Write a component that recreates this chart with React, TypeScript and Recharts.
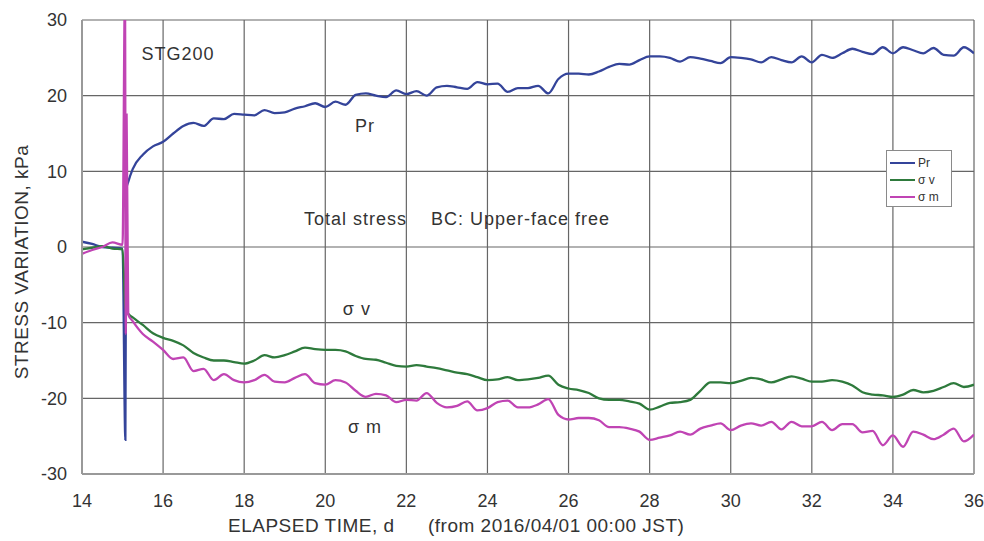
import { LineChart, Line, XAxis, YAxis, CartesianGrid, ReferenceDot, Label } from "recharts";

const FONT = '"Liberation Sans", Arial, sans-serif';
const INK = "#333";

const PR_COLOR = "#34449a";
const SV_COLOR = "#2e7a3c";
const SM_COLOR = "#c044b4";

const dayTicks = [14, 16, 18, 20, 22, 24, 26, 28, 30, 32, 34, 36];
const stressTicks = [-30, -20, -10, 0, 10, 20, 30];

// readings before and through the loading step just after day 15
const prLeadDays = [14, 14.25, 14.5, 14.75, 15.0, 15.07, 15.09, 15.14];
const prLead = [0.7, 0.4, 0.0, -0.1, -0.2, -25.5, 7.6, 8.6];

const svLeadDays = [14, 14.25, 14.5, 14.75, 15.0, 15.07, 15.14];
const svLead = [-0.3, -0.1, 0.1, -0.2, -0.3, -8.0, -8.8];

const smLeadDays = [14, 14.25, 14.5, 14.75, 15.0, 15.06, 15.08, 15.1, 15.14];
const smLead = [-0.9, -0.4, 0.0, 0.6, 0.3, 34, -11.5, 17.5, -8.9];

// 6-hourly readings from day 15.25 to day 36
const mainStart = 15.25;
const mainStep = 0.25;

const pr = [
  10.3, 12.2, 13.3,
  13.9, 15.0, 16.0, 16.4,
  16.0, 17.0, 16.9, 17.6,
  17.5, 17.4, 18.1, 17.7,
  17.8, 18.3, 18.6, 19.0,
  18.5, 19.2, 18.8, 20.1,
  20.3, 20.0, 19.8, 20.7,
  20.2, 20.6, 20.0, 21.1,
  21.3, 21.1, 20.9, 21.8,
  21.5, 21.6, 20.5, 21.0,
  21.0, 21.3, 20.3, 22.2,
  22.9, 22.9, 22.8, 23.2,
  23.8, 24.2, 24.1, 24.7,
  25.2, 25.2, 25.0, 24.5,
  25.1, 24.9, 24.6, 24.3,
  25.1, 25.0, 24.8, 24.4,
  25.1, 24.7, 24.4, 25.2,
  24.4, 25.4, 25.0, 25.6,
  26.2, 25.8, 25.5, 26.4,
  25.6, 26.4, 26.0, 25.6,
  26.3, 25.4, 25.3, 26.4,
  25.6,
];

const sv = [
  -9.3, -10.3, -11.4,
  -12.0, -12.4, -13.0, -14.0,
  -14.6, -15.0, -15.0, -15.2,
  -15.4, -15.0, -14.3, -14.6,
  -14.3, -13.8, -13.3, -13.5,
  -13.6, -13.6, -13.8, -14.4,
  -14.8, -14.9, -15.3, -15.7,
  -15.8, -15.6, -15.8, -16.0,
  -16.3, -16.6, -16.8, -17.2,
  -17.6, -17.5, -17.2, -17.6,
  -17.5, -17.3, -17.0, -18.2,
  -18.7, -18.9, -19.3, -20.0,
  -20.2, -20.2, -20.4, -20.7,
  -21.5, -21.1, -20.6, -20.5,
  -20.2, -19.0, -17.9, -17.9,
  -18.0, -17.7, -17.3, -17.5,
  -17.9, -17.5, -17.1, -17.4,
  -17.8, -17.8, -17.6, -17.8,
  -18.3, -19.2, -19.5, -19.6,
  -19.8, -19.5, -18.9, -19.2,
  -19.0, -18.5, -18.0, -18.5,
  -18.2,
];

const sm = [
  -9.8, -11.5, -12.5,
  -13.6, -14.8, -14.6, -16.4,
  -16.1, -17.6, -16.8, -17.6,
  -17.9, -17.6, -16.9, -17.8,
  -17.9, -17.3, -16.8, -18.0,
  -18.2, -17.6, -17.9, -19.0,
  -19.8, -19.4, -19.6, -20.5,
  -20.2, -20.3, -19.3, -20.6,
  -21.2, -21.0, -20.4, -21.6,
  -21.3, -20.5, -20.3, -21.2,
  -21.2, -20.8, -20.1, -22.2,
  -22.8, -22.6, -22.6, -22.9,
  -23.8, -23.8, -24.0, -24.4,
  -25.5, -25.2, -24.9, -24.4,
  -24.8, -24.0, -23.6, -23.3,
  -24.2, -23.6, -23.3, -23.6,
  -23.1, -24.1, -23.1, -23.7,
  -23.7, -23.1, -24.2, -23.4,
  -23.4, -24.5, -24.3, -26.2,
  -24.9, -26.4, -24.4, -24.8,
  -25.4, -24.8, -24.0, -25.7,
  -24.8,
];

type Row = { t: number; v: number };

function buildRows(leadDays: number[], lead: number[], main: number[]): Row[] {
  const head = leadDays.map((t, i) => ({ t, v: lead[i] }));
  const body = main.map((v, i) => ({ t: mainStart + i * mainStep, v }));
  return [...head, ...body];
}

const prRows = buildRows(prLeadDays, prLead, pr);
const svRows = buildRows(svLeadDays, svLead, sv);
const smRows = buildRows(smLeadDays, smLead, sm);

const legendItems = [
  { name: "Pr", color: PR_COLOR },
  { name: "σ v", color: SV_COLOR },
  { name: "σ m", color: SM_COLOR },
];

function LegendBox() {
  return (
    <div
      style={{
        position: "absolute",
        left: 886,
        top: 150,
        width: 66,
        height: 57,
        border: "1px solid #8a8a8a",
        background: "#fff",
        fontFamily: FONT,
        fontSize: 12,
        color: INK,
        boxSizing: "border-box",
        padding: "3px 0 0 3px",
      }}
    >
      {legendItems.map((it) => (
        <div key={it.name} style={{ display: "flex", alignItems: "center", height: 17 }}>
          <span style={{ display: "inline-block", width: 25, height: 2, background: it.color, marginRight: 3 }} />
          <span>{it.name}</span>
        </div>
      ))}
    </div>
  );
}

const noteLabel = (value: string) => ({
  value,
  position: "center" as const,
  fill: INK,
  fontSize: 18,
  fontFamily: FONT,
  letterSpacing: 1,
});

export default function App() {
  return (
    <div style={{ width: 984, height: 541, background: "#fff", position: "relative" }}>
      <style>{`body{margin:0}`}</style>
      <LineChart width={984} height={541} margin={{ top: 20, right: 10, bottom: 0, left: 22 }}>
        <CartesianGrid stroke="#666" strokeWidth={1.2} />
        <XAxis
          dataKey="t"
          type="number"
          domain={[14, 36]}
          ticks={dayTicks}
          allowDataOverflow
          height={67}
          tickLine={false}
          axisLine={{ stroke: "#999", strokeWidth: 2 }}
          tickMargin={14}
          tick={{ fontSize: 18, fill: INK, fontFamily: FONT }}
        >
          <Label
            content={(props: any) => {
              const vb = props.viewBox || { y: 474 };
              const y = vb.y + 58;
              return (
                <text y={y} fill={INK} fontSize={19} fontFamily={FONT} letterSpacing={0.5}>
                  <tspan x={228}>ELAPSED TIME, d</tspan>
                  <tspan x={428}>(from 2016/04/01 00:00 JST)</tspan>
                </text>
              );
            }}
          />
        </XAxis>
        <YAxis
          type="number"
          domain={[-30, 30]}
          ticks={stressTicks}
          allowDataOverflow
          width={60}
          tickLine={false}
          axisLine={{ stroke: "#999", strokeWidth: 2 }}
          tickMargin={9}
          tick={{ fontSize: 18, fill: INK, fontFamily: FONT }}
        >
          <Label
            content={(props: any) => {
              const vb = props.viewBox || { x: 22, y: 20, height: 454 };
              const cx = vb.x - 1;
              const cy = vb.y + vb.height / 2 + 15;
              return (
                <text
                  x={cx}
                  y={cy}
                  transform={`rotate(-90 ${cx} ${cy})`}
                  textAnchor="middle"
                  dominantBaseline="central"
                  fill={INK}
                  fontSize={19}
                  fontFamily={FONT}
                  letterSpacing={0.5}
                >
                  STRESS VARIATION, kPa
                </text>
              );
            }}
          />
        </YAxis>

        <Line
          data={prRows}
          dataKey="v"
          name="Pr"
          type="monotone"
          stroke={PR_COLOR}
          strokeWidth={2.3}
          dot={false}
          activeDot={false}
          isAnimationActive={false}
        />
        <Line
          data={svRows}
          dataKey="v"
          name="σ v"
          type="monotone"
          stroke={SV_COLOR}
          strokeWidth={2.3}
          dot={false}
          activeDot={false}
          isAnimationActive={false}
        />
        <Line
          data={smRows}
          dataKey="v"
          name="σ m"
          type="monotone"
          stroke={SM_COLOR}
          strokeWidth={2.3}
          dot={false}
          activeDot={false}
          isAnimationActive={false}
        />

        <ReferenceDot x={16.37} y={25.6} r={0} stroke="none" fill="none" label={noteLabel("STG200")} />
        <ReferenceDot x={20.98} y={16.1} r={0} stroke="none" fill="none" label={noteLabel("Pr")} />
        <ReferenceDot
          x={23.25}
          y={3.8}
          r={0}
          stroke="none"
          fill="none"
          label={noteLabel("Total stress\u00a0\u00a0\u00a0\u00a0BC: Upper-face free")}
        />
        <ReferenceDot x={20.78} y={-8.1} r={0} stroke="none" fill="none" label={noteLabel("σ v")} />
        <ReferenceDot x={20.98} y={-23.8} r={0} stroke="none" fill="none" label={noteLabel("σ m")} />
      </LineChart>
      <LegendBox />
    </div>
  );
}
